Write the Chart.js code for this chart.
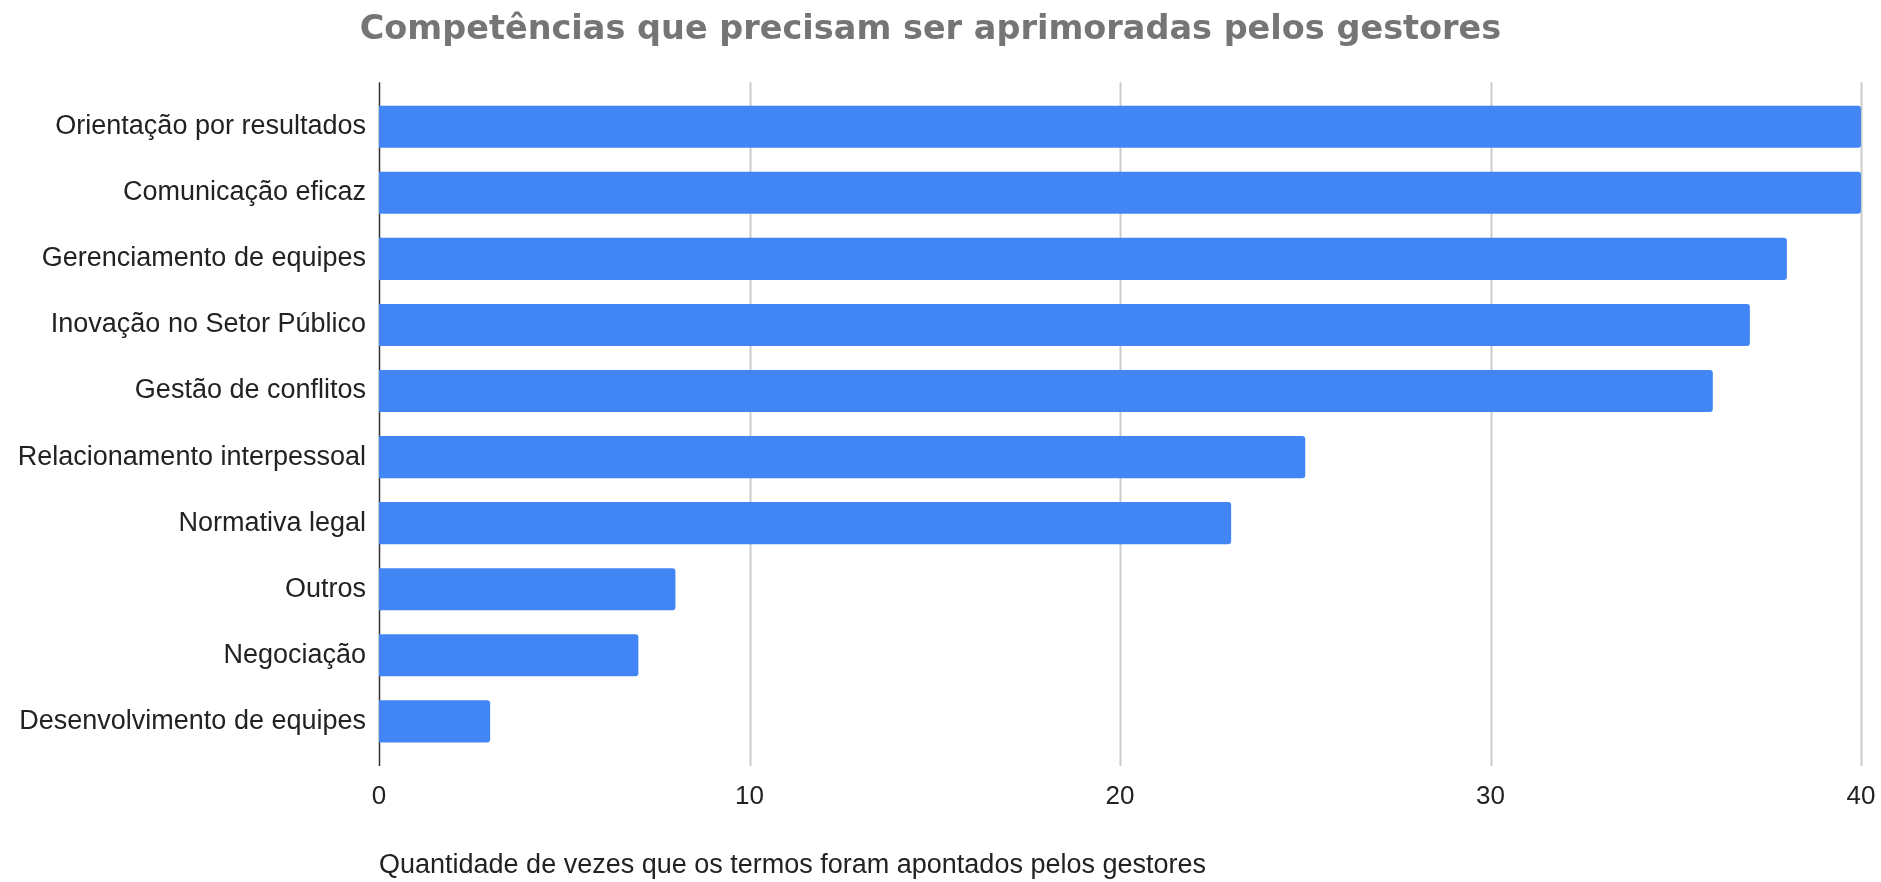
<!DOCTYPE html>
<html>
<head>
<meta charset="utf-8">
<script src="https://cdn.jsdelivr.net/npm/chart.js@4/dist/chart.umd.min.js"></script>
<style>
  html, body { margin: 0; padding: 0; background: #fff; }
  #wrap { width: 1881px; height: 882px; }
</style>
</head>
<body>
<div id="wrap"><canvas id="chart"></canvas></div>
<script>
// dados
const categorias = [
  'Orientação por resultados',
  'Comunicação eficaz',
  'Gerenciamento de equipes',
  'Inovação no Setor Público',
  'Gestão de conflitos',
  'Relacionamento interpessoal',
  'Normativa legal',
  'Outros',
  'Negociação',
  'Desenvolvimento de equipes',
];
const quantidades = [40, 40, 38, 37, 36, 25, 23, 8, 7, 3];
const ticksX = [0, 10, 20, 30, 40];

const FONT = "Arial, 'Liberation Sans', sans-serif";

// grade vertical desenhada um pouco além da área (como no Google Charts)
const gradePlugin = {
  id: 'grade',
  beforeDatasetsDraw(chart) {
    const { ctx, chartArea } = chart;
    const x = chart.scales.x;
    const ext = (chartArea.bottom - chartArea.top) / categorias.length * 0.175;
    ctx.save();
    x.ticks.forEach(t => {
      const px = Math.round(x.getPixelForValue(t.value)) + 0.5;
      ctx.beginPath();
      ctx.strokeStyle = t.value === 0 ? '#333333' : '#cccccc';
      ctx.lineWidth = t.value === 0 ? 1.5 : 2;
      ctx.moveTo(px, chartArea.top - ext);
      ctx.lineTo(px, chartArea.bottom + ext);
      ctx.stroke();
    });
    ctx.restore();
  },
};

new Chart(document.getElementById('chart'), {
  type: 'bar',
  data: {
    labels: categorias,
    datasets: [{
      data: quantidades,
      backgroundColor: '#4285f4',
      borderRadius: 3,
      barPercentage: 0.637,
      categoryPercentage: 1,
    }],
  },
  options: {
    indexAxis: 'y',
    responsive: true,
    maintainAspectRatio: false,
    animation: false,
    layout: { padding: { left: 0, right: 20, top: 0, bottom: 0 } },
    plugins: {
      legend: { display: false },
      tooltip: { enabled: false },
      title: {
        display: true,
        text: 'Competências que precisam ser aprimoradas pelos gestores',
        color: '#757575',
        font: { family: "'DejaVu Sans', sans-serif", size: 33.5, weight: 'bold' },
        padding: { top: 10, bottom: 43.5 },
      },
    },
    scales: {
      x: {
        min: 0,
        max: 40,
        afterBuildTicks: s => { s.ticks = ticksX.map(v => ({ value: v })); },
        afterFit: s => { s.paddingRight = 0; },
        grid: { display: false, drawTicks: false },
        border: { display: false },
        ticks: {
          color: '#222222',
          padding: 27,
          font: { family: FONT, size: 26 },
        },
        title: {
          display: true,
          text: 'Quantidade de vezes que os termos foram apontados pelos gestores',
          align: 'start',
          color: '#222222',
          font: { family: FONT, size: 27 },
          padding: { top: 10, bottom: 0 },
        },
      },
      y: {
        afterFit: s => { s.width = 379; },
        grid: { display: false, drawTicks: false },
        border: { display: false },
        ticks: {
          color: '#222222',
          padding: 13,
          font: { family: FONT, size: 27 },
        },
      },
    },
  },
  plugins: [gradePlugin],
});
</script>
</body>
</html>
